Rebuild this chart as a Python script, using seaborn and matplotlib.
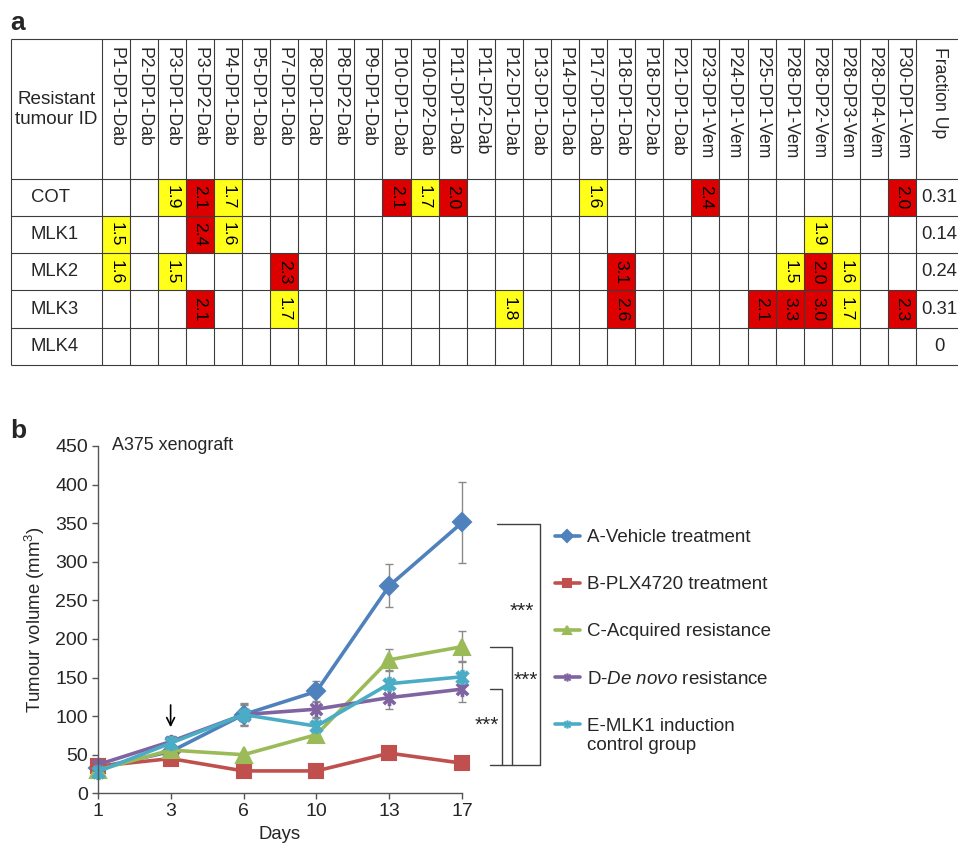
import numpy as np
import pandas as pd
import matplotlib
matplotlib.use("Agg")
import matplotlib.pyplot as plt
import seaborn as sns
from matplotlib.colors import ListedColormap, BoundaryNorm
from matplotlib.lines import Line2D
from matplotlib.path import Path

sns.set_style("white")
plt.rcParams["font.family"] = ["Liberation Sans", "DejaVu Sans"]
plt.rcParams["mathtext.fontset"] = "custom"
plt.rcParams["mathtext.rm"] = "Liberation Sans"
plt.rcParams["mathtext.it"] = "Liberation Sans:italic"

# ---- panel a: fold change table ----
N = None
samples = [
    "P1-DP1-Dab", "P2-DP1-Dab", "P3-DP1-Dab", "P3-DP2-Dab", "P4-DP1-Dab",
    "P5-DP1-Dab", "P7-DP1-Dab", "P8-DP1-Dab", "P8-DP2-Dab", "P9-DP1-Dab",
    "P10-DP1-Dab", "P10-DP2-Dab", "P11-DP1-Dab", "P11-DP2-Dab", "P12-DP1-Dab",
    "P13-DP1-Dab", "P14-DP1-Dab", "P17-DP1-Dab", "P18-DP1-Dab", "P18-DP2-Dab",
    "P21-DP1-Dab", "P23-DP1-Vem", "P24-DP1-Vem", "P25-DP1-Vem", "P28-DP1-Vem",
    "P28-DP2-Vem", "P28-DP3-Vem", "P28-DP4-Vem", "P30-DP1-Vem",
]
genes = ["COT", "MLK1", "MLK2", "MLK3", "MLK4"]
cot = [N, N, 1.9, 2.1, 1.7, N, N, N, N, N, 2.1, 1.7, 2.0, N, N,
       N, N, 1.6, N, N, N, 2.4, N, N, N, N, N, N, 2.0]
mlk1 = [1.5, N, N, 2.4, 1.6, N, N, N, N, N, N, N, N, N, N,
        N, N, N, N, N, N, N, N, N, N, 1.9, N, N, N]
mlk2 = [1.6, N, 1.5, N, N, N, 2.3, N, N, N, N, N, N, N, N,
        N, N, N, 3.1, N, N, N, N, N, 1.5, 2.0, 1.6, N, N]
mlk3 = [N, N, N, 2.1, N, N, 1.7, N, N, N, N, N, N, N, 1.8,
        N, N, N, 2.6, N, N, N, N, 2.1, 3.3, 3.0, 1.7, N, 2.3]
mlk4 = [N] * 29
fraction_up = [0.31, 0.14, 0.24, 0.31, 0]

# ---- panel b: xenograft growth ----
days = [1, 3, 6, 10, 13, 17]
vehicle = [33, 54, 102, 132, 269, 351]
vehicle_err = [3, 5, 14, 14, 28, 53]
plx4720 = [35, 45, 29, 29, 52, 39]
plx4720_err = [3, 3, 2, 2, 4, 3]
acquired = [30, 56, 50, 76, 173, 190]
acquired_err = [3, 5, 4, 10, 14, 20]
denovo = [37, 67, 102, 109, 124, 135]
denovo_err = [3, 6, 15, 10, 15, 17]
mlk1_ctrl = [28, 65, 102, 87, 142, 151]
mlk1_ctrl_err = [3, 9, 13, 10, 18, 21]

W, H = 958, 849
fig = plt.figure(figsize=(W / 100, H / 100), dpi=100)

# table geometry in pixels
t_left, t_top, t_bottom = 10.7, 39.3, 365.0
c0 = 101.7           # left edge of first sample column
cw = 28.08           # column width
hdr = 178.7          # bottom of header row
rh = (t_bottom - hdr) / 5

ax_t = fig.add_axes([t_left / W, 1 - t_bottom / H, (W - t_left) / W, (t_bottom - t_top) / H])
table = pd.DataFrame([cot, mlk1, mlk2, mlk3, mlk4], index=genes, columns=samples, dtype=float)
cmap = ListedColormap(["#ffff1a", "#dc0000"])
norm = BoundaryNorm([0, 1.95, 10], 2)
sns.heatmap(table, ax=ax_t, cmap=cmap, norm=norm, cbar=False,
            annot=True, fmt=".1f",
            annot_kws=dict(rotation=-90, fontsize=12.6, color="black"),
            xticklabels=False, yticklabels=False)
x_lo = -(c0 - t_left) / cw
x_hi = (W - c0) / cw
y_top = -(hdr - t_top) / rh
ax_t.set_xlim(x_lo, x_hi)
ax_t.set_ylim(5, y_top)
ax_t.set_axis_off()

ncol = len(samples)
grid = dict(color="#3c3c3c", lw=0.8, clip_on=False, zorder=5)
ax_t.vlines([x_lo] + list(range(ncol + 1)), y_top, 5, **grid)
ax_t.hlines([y_top] + list(range(len(genes) + 1)), x_lo, x_hi + 1, **grid)

for i, s in enumerate(samples):
    ax_t.text(i + 0.5, y_top + 0.2, s, rotation=-90, ha="center", va="top", fontsize=12.7)
frac_x = ncol + 0.82
ax_t.text(frac_x, y_top + 0.2, "Fraction Up", rotation=-90, ha="center", va="top", fontsize=12.7)
ax_t.text(x_lo / 2, -1.85, "Resistant\ntumour ID", ha="center", va="center",
          fontsize=13.6, linespacing=1.25)
for r, (g, f) in enumerate(zip(genes, fraction_up)):
    ax_t.text(x_lo + 0.72, r + 0.5, g, ha="left", va="center", fontsize=13.3)
    ax_t.text(frac_x, r + 0.5, f"{f:g}", ha="center", va="center", fontsize=13.3)

fig.text(10 / W, 1 - 30 / H, "a", fontsize=19, fontweight="bold", ha="left", va="baseline")
fig.text(10 / W, 1 - 438 / H, "b", fontsize=19, fontweight="bold", ha="left", va="baseline")

# ---- panel b ----
ax = fig.add_axes([97.7 / W, 1 - 793.3 / H, (462.3 - 97.7) / W, (793.3 - 446) / H])

asterisk = Path([(-1, -1), (1, 1), (-1, 1), (1, -1), (0, -1.35), (0, 1.35)],
                [Path.MOVETO, Path.LINETO] * 3)

groups = [
    ("A-Vehicle treatment", vehicle, vehicle_err, "#4f81bd", "D", 9, 1.5),
    ("B-PLX4720 treatment", plx4720, plx4720_err, "#c0504d", "s", 10, 1.5),
    ("C-Acquired resistance", acquired, acquired_err, "#9bbb59", "^", 11, 1.5),
    ("D-$\\it{De\\ novo}$ resistance", denovo, denovo_err, "#8064a2", asterisk, 11, 2.6),
    ("E-MLK1 induction", mlk1_ctrl, mlk1_ctrl_err, "#4bacc6", asterisk, 11, 3.2),
]

pos = np.arange(len(days))
for label, vals, err, color, marker, ms, mew in groups:
    eb = ax.errorbar(pos, vals, yerr=err, fmt="none", ecolor="#8a8a8a", elinewidth=1,
                     capsize=3, capthick=1, zorder=1)
    for art in eb.get_children():
        art.set_clip_on(False)
for label, vals, err, color, marker, ms, mew in groups:
    sns.pointplot(x=days, y=vals, color=color, markers=marker, errorbar=None,
                  linewidth=2.6, markersize=ms, markeredgewidth=mew, clip_on=False, ax=ax)

ax.set_xlim(0, len(days) - 1)
ax.set_ylim(0, 450)
ax.set_yticks(range(0, 451, 50))
ax.set_xticks(pos)
ax.set_xticklabels([str(d) for d in days])
sns.despine(ax=ax)
for sp in ["left", "bottom"]:
    ax.spines[sp].set_color("#555555")
    ax.spines[sp].set_linewidth(1)
ax.tick_params(axis="both", direction="out", length=4, width=1, color="#555555",
               labelsize=14, pad=3, left=True, bottom=True)
ax.set_xlabel("Days", fontsize=13.3, labelpad=4)
ax.set_ylabel("Tumour volume (mm$^3$)", fontsize=13.4, labelpad=6)
ax.grid(False)

ax.text(0.2, 450, "A375 xenograft", ha="left", va="center", fontsize=12.9)
i3 = days.index(3)
ax.annotate("", xy=(i3, 82), xytext=(i3, 118),
            arrowprops=dict(arrowstyle="->", color="black", lw=1.2, mutation_scale=14))

# significance brackets
bk = dict(color="#404040", lw=1, clip_on=False)
base = plx4720[-1] - 2
ax.plot([5.48, 6.066, 6.066], [vehicle[-1] - 2, vehicle[-1] - 2, base], **bk)
ax.plot([5.38, 5.686, 5.686], [acquired[-1], acquired[-1], base], **bk)
ax.plot([5.38, 5.549, 5.549], [denovo[-1], denovo[-1], base], **bk)
ax.plot([5.38, 6.066], [base, base], **bk)
for x, y in [(5.82, 236), (5.87, 147), (5.34, 88)]:
    ax.text(x, y, "***", ha="center", va="center", fontsize=15, clip_on=False)

handles = [Line2D([], [], color=c, lw=2.6, marker=m, ms=6, mew=1.5)
           for _, _, _, c, m, _, _ in groups]
labels = [g[0] for g in groups]
leg = fig.legend(handles, labels, loc="upper left", bbox_to_anchor=(555 / W, 1 - 529 / H),
                 frameon=False, fontsize=13.5, handlelength=1.33, handletextpad=0.37,
                 labelspacing=1.6, borderpad=0, borderaxespad=0)
fig.text(587 / W, 1 - 746 / H, "control group", fontsize=13.5, ha="left", va="center")

fig.savefig("out.png", dpi=100)
